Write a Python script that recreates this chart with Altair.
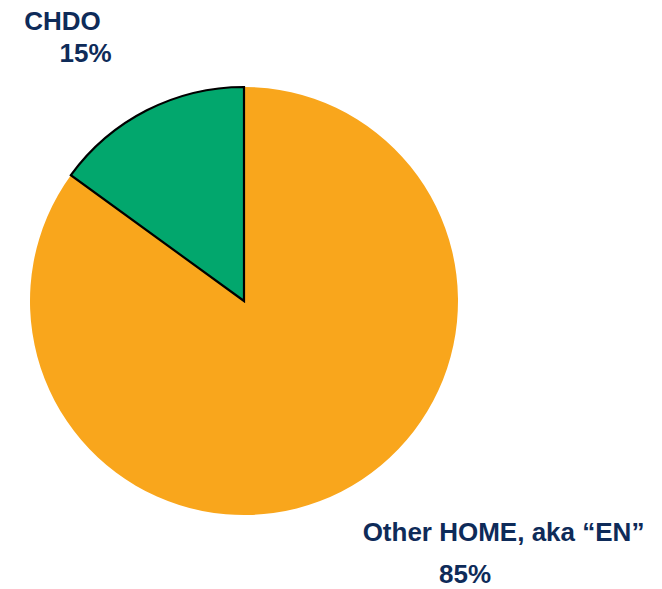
import altair as alt
import pandas as pd

categories = ["Other HOME, aka \u201cEN\u201d", "CHDO"]
shares = [85, 15]
colors = ["#F9A61C", "#02A76D"]
order = [0, 1]

pie_df = pd.DataFrame({"category": categories, "share": shares, "order": order})

label_names = ["CHDO", "Other HOME, aka \u201cEN\u201d"]
label_pcts = ["15%", "85%"]

NAVY = "#0E2B59"
FONT = "Liberation Sans"

pie = alt.Chart(pie_df).mark_arc(strokeWidth=2.2).encode(
    theta=alt.Theta("share:Q", stack=True),
    order=alt.Order("order:Q"),
    color=alt.Color("category:N", scale=alt.Scale(domain=categories, range=colors), legend=None),
    stroke=alt.Stroke("category:N", scale=alt.Scale(domain=categories, range=["transparent", "black"]), legend=None),
    x=alt.value(244),
    y=alt.value(301),
    radius=alt.value(214),
)

def label(txt, x, y):
    return alt.Chart(pd.DataFrame({"t": [txt]})).mark_text(
        font=FONT, fontSize=26, fontWeight="bold", color=NAVY,
        align="center", baseline="alphabetic"
    ).encode(text="t:N", x=alt.value(x), y=alt.value(y))

chart = alt.layer(
    pie,
    label(label_names[0], 62.5, 30),
    label(label_pcts[0], 85.5, 62),
    label(label_names[1], 503.5, 541),
    label(label_pcts[1], 465, 583),
).properties(
    width=662, height=589, padding=0, autosize=alt.AutoSizeParams(type="none")
).configure_view(stroke=None)

chart.save("out.html", embed_options={"renderer": "svg", "actions": False})
